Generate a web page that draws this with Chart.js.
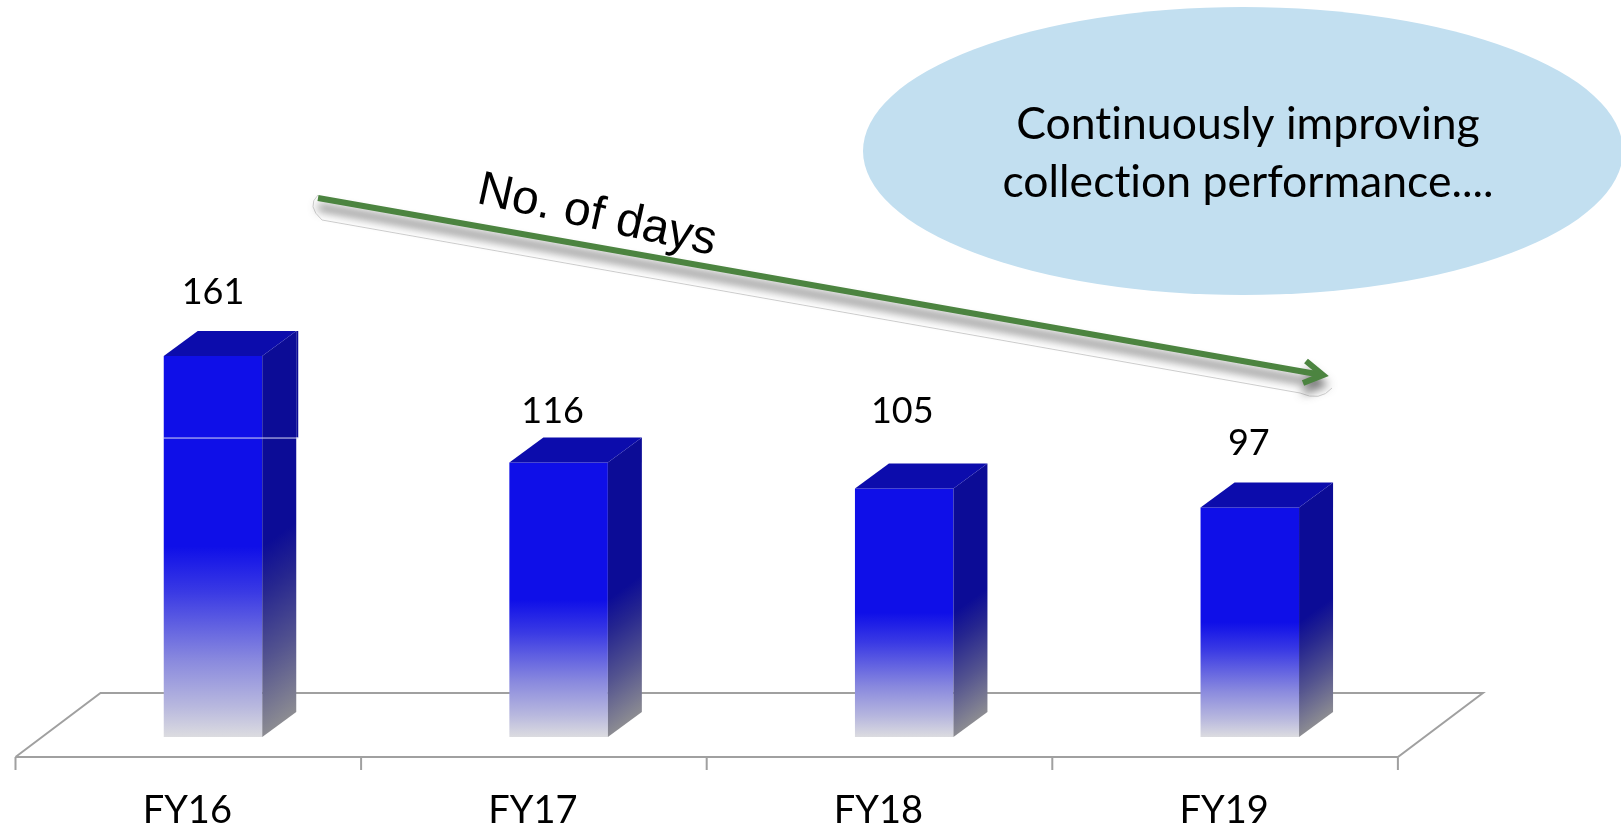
<!DOCTYPE html>
<html>
<head>
<meta charset="utf-8">
<title>Collection performance</title>
<script src="https://cdn.jsdelivr.net/npm/chart.js@4"></script>
<style>
	html, body { margin: 0; padding: 0; background: #fff; overflow: hidden; }
	canvas { display: block; }
</style>
</head>
<body>
<canvas id="days-chart" width="1621" height="829"></canvas>
<script>
const categories = ['FY16', 'FY17', 'FY18', 'FY19'];
const days = [161, 116, 105, 97];

// value labels were placed by hand in the original slide
const labelNudgeX = [0, -6, -2, -1];
const labelNudgeY = [0, 13, -13, 0];

const depthX = 34;
const depthY = 25;
const floorDepthX = 85;
const floorDepthY = 64;
const axisShift = 24.7;   // bars sit right of the tick label centres
const FONT = 'Lato, "Open Sans", sans-serif';

// Bars - front face gradient
function frontFill(context) {
	const chart = context.chart;
	if (!chart.chartArea) return '#0f0fe8';
	const yScale = chart.scales.y;
	const top = yScale.getPixelForValue(days[context.dataIndex]);
	const base = yScale.getPixelForValue(0);
	const g = chart.ctx.createLinearGradient(0, top, 0, base);
	g.addColorStop(0, '#0f0fe8');
	g.addColorStop(0.5, '#0f0fe8');
	g.addColorStop(0.62, '#3a3ae4');
	g.addColorStop(0.8, '#8a8ade');
	g.addColorStop(0.92, '#b8b8de');
	g.addColorStop(1, '#dcdce0');
	return g;
}

// floor, drawn under the bars
const floorPlugin = {
	id: 'floor',
	beforeDatasetsDraw(chart) {
		const ctx = chart.ctx;
		const x = chart.scales.x;
		const left = x.left - axisShift;
		const right = x.right - axisShift;
		const y = x.top;
		const step = (x.right - x.left) / categories.length;
		ctx.save();
		ctx.strokeStyle = '#a0a0a0';
		ctx.lineWidth = 2;
		ctx.beginPath();
		ctx.moveTo(left, y);
		ctx.lineTo(right, y);
		ctx.lineTo(right + floorDepthX, y - floorDepthY);
		ctx.lineTo(left + floorDepthX, y - floorDepthY);
		ctx.lineTo(left, y);
		for (let i = 0; i <= categories.length; i++) {
			ctx.moveTo(left + step * i, y);
			ctx.lineTo(left + step * i, y + 13);
		}
		ctx.stroke();
		ctx.restore();
	}
};

// side and top faces of the bars, plus the value labels
const barFacesPlugin = {
	id: 'barFaces',
	afterDatasetsDraw(chart) {
		const ctx = chart.ctx;
		const yScale = chart.scales.y;
		const bars = chart.getDatasetMeta(0).data;
		bars.forEach((bar, i) => {
			const right = bar.x + bar.width / 2;
			const left = bar.x - bar.width / 2;
			const top = bar.y;
			const base = bar.base;

			// sheared so the fade runs parallel to the bottom edge of the face
			ctx.save();
			ctx.transform(1, -depthY / depthX, 0, 1, right, 0);
			const side = ctx.createLinearGradient(0, top, 0, base);
			side.addColorStop(0, '#0c0c96');
			side.addColorStop(0.5, '#0c0c96');
			side.addColorStop(0.62, '#26268f');
			side.addColorStop(0.8, '#53538f');
			side.addColorStop(1, '#8c8c92');
			ctx.fillStyle = side;
			ctx.fillRect(0, top, depthX, base - top);
			ctx.restore();

			ctx.fillStyle = '#0c0cac';
			ctx.beginPath();
			ctx.moveTo(left, top);
			ctx.lineTo(left + depthX, top - depthY);
			ctx.lineTo(right + depthX, top - depthY);
			ctx.lineTo(right, top);
			ctx.closePath();
			ctx.fill();

			ctx.fillStyle = '#000';
			ctx.font = '36px ' + FONT;
			ctx.textAlign = 'center';
			ctx.textBaseline = 'middle';
			ctx.fillText(String(days[i]), bar.x + labelNudgeX[i], top - 64 + labelNudgeY[i]);
		});

		// seam across the tallest bar, level with the top of the next one
		const first = bars[0];
		const firstRight = first.x + first.width / 2 + depthX;
		const seam = yScale.getPixelForValue(days[1]) - depthY;
		ctx.fillStyle = '#0c0c96';
		ctx.fillRect(firstRight, first.y - depthY, 2, seam - first.y + depthY);
		ctx.fillStyle = '#d8d8f4';
		ctx.fillRect(first.x - first.width / 2 - 1, seam, first.width + depthX + 3, 1);
	}
};

// callout, trend arrow and caption on top of the chart
const calloutPlugin = {
	id: 'callout',
	afterDraw(chart) {
		const ctx = chart.ctx;
		ctx.save();
		ctx.fillStyle = '#c2dff0';
		ctx.beginPath();
		ctx.ellipse(1243, 151, 380, 144, 0, 0, Math.PI * 2);
		ctx.fill();

		ctx.fillStyle = '#000';
		ctx.font = '44.5px ' + FONT;
		ctx.textAlign = 'center';
		ctx.textBaseline = 'middle';
		ctx.letterSpacing = '0.01px';   // stops the "ti" ligature
		ctx.fillText('Continuously improving', 1248, 125);
		ctx.fillText('collection performance....', 1248, 183);
		ctx.letterSpacing = '0px';

		// cut-out edge left around the arrow
		ctx.strokeStyle = '#cfcfcf';
		ctx.lineWidth = 1;
		ctx.beginPath();
		ctx.moveTo(318, 195);
		ctx.quadraticCurveTo(306, 206, 322, 220);
		ctx.lineTo(1300, 393);
		ctx.quadraticCurveTo(1320, 402, 1332, 388);
		ctx.stroke();

		ctx.strokeStyle = '#4c8440';
		ctx.lineWidth = 6;
		ctx.shadowColor = 'rgba(60,60,60,0.7)';
		ctx.shadowBlur = 10;
		ctx.shadowOffsetX = 0;
		ctx.shadowOffsetY = 9;
		ctx.beginPath();
		ctx.moveTo(318, 198);
		ctx.lineTo(1322, 375);
		ctx.moveTo(1306, 361);
		ctx.lineTo(1323, 375);
		ctx.lineTo(1303, 383);
		ctx.stroke();
		ctx.shadowColor = 'transparent';

		ctx.translate(597, 216);
		ctx.rotate(12.5 * Math.PI / 180);
		ctx.fillStyle = '#000';
		ctx.font = '48px "Liberation Sans", Arial, sans-serif';
		ctx.fillText('No. of days', 0, 0);
		ctx.restore();
	}
};

const daysChart = new Chart(document.getElementById('days-chart'), {
	type: 'bar',
	data: {
		labels: categories,
		datasets: [{
			data: days,
			backgroundColor: frontFill,
			borderWidth: 0,
			barPercentage: 0.285,
			categoryPercentage: 1
		}]
	},
	options: {
		responsive: false,
		animation: false,
		layout: {
			padding: { left: 40.2, right: 198.4, top: 0, bottom: 0 }
		},
		scales: {
			x: {
				border: { display: false },
				grid: { display: false },
				afterFit(scale) { scale.height = 72; },
				ticks: {
					color: '#000',
					font: { family: FONT, size: 38 },
					labelOffset: -axisShift - 1,
					padding: 23,
					maxRotation: 0
				}
			},
			y: {
				display: false,
				min: -8.4,
				max: 311.4
			}
		},
		plugins: {
			legend: { display: false },
			tooltip: { enabled: false }
		}
	},
	plugins: [floorPlugin, barFacesPlugin, calloutPlugin]
});
</script>
</body>
</html>
